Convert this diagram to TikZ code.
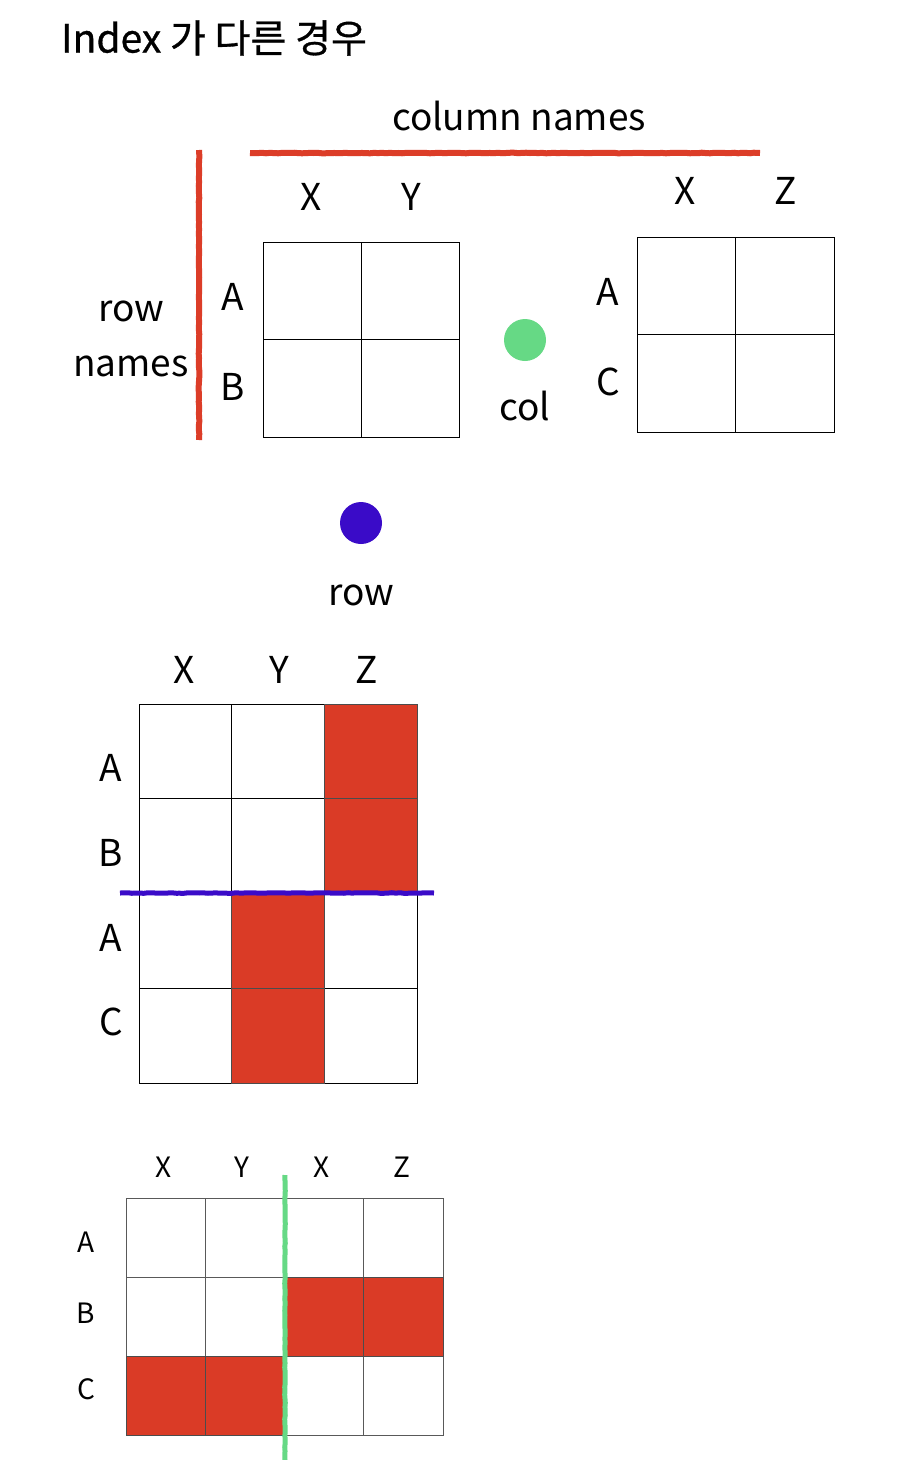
\documentclass[tikz,border=0pt]{standalone}
\usepackage{fontspec}
\setmainfont{Noto Sans CJK KR}
\newfontfamily\titlefont{Noto Sans CJK KR}[FakeBold=0.8]
\usetikzlibrary{decorations.pathmorphing}
\definecolor{brushred}{HTML}{DC3D28}
\definecolor{cellred}{HTML}{DA3B26}
\definecolor{brushblue}{HTML}{3A0BC8}
\definecolor{brushgreen}{HTML}{66D985}
\tikzset{
  lbl/.style={inner sep=0pt, font=\fontsize{37}{40}\selectfont},
  slbl/.style={inner sep=0pt, font=\fontsize{28}{32}\selectfont},
  cell/.style={draw=black, line width=0.9pt},
  gcell/.style={draw=black!65, line width=0.9pt},
  redcell/.style={fill=cellred, draw=black!70, line width=0.9pt},
  brush/.style={line width=6pt, decorate, decoration={random steps, segment length=4pt, amplitude=0.3pt}},
  dot/.style={circle, inner sep=0pt, minimum size=42pt},
}
\begin{document}
\begin{tikzpicture}[x=1pt,y=-1pt]
\useasboundingbox (0,0) rectangle (910,1460);
\fill[white] (0,0) rectangle (910,1460);

% title
\node[inner sep=0pt, anchor=west, font=\titlefont\fontsize{39}{42}\selectfont] (title) at (61,38) {Index 가 다른 경우};

% column names / row names
\node[lbl] (colnames) at (519,116) {column names};
\coordinate (ch1) at (250,153);
\coordinate (ch2) at (760,153);
\draw[brush, brushred] (ch1) -- (ch2);
\coordinate (rv1) at (199,150);
\coordinate (rv2) at (199,440);
\draw[brush, brushred] (rv1) -- (rv2);
\node[lbl] (rown) at (131,311) {row};
\node[lbl] (names) at (131,366) {names};

% left grid
\foreach \i in {0,1} \foreach \j in {0,1}
  \draw[cell] ({263+98*\i},{242+97.5*\j}) rectangle ++(98,97.5);
\node[lbl] (lx) at (311,197) {X};
\node[lbl] (ly) at (411,197) {Y};
\node[lbl] (la) at (233,297) {A};
\node[lbl] (lb) at (233,387) {B};

% right grid
\foreach \i in {0,1} \foreach \j in {0,1}
  \draw[cell] ({637+98.5*\i},{237+97.5*\j}) rectangle ++(98.5,97.5);
\node[lbl] (rx) at (685,191) {X};
\node[lbl] (rz) at (786,191) {Z};
\node[lbl] (ra) at (608,292) {A};
\node[lbl] (rc) at (608,382) {C};

% col dot
\node[dot, fill=brushgreen] (gdot) at (525,340) {};
\node[lbl] (col) at (525,406) {col};

% row dot
\node[dot, fill=brushblue] (bdot) at (361,523) {};
\node[lbl] (row) at (361,595) {row};

% middle grid
\foreach \i in {0,1,2} \foreach \j in {0,1,2,3}
  \draw[cell] ({139+92.7*\i},{704+94.75*\j}) rectangle ++(92.7,94.75);
\draw[redcell] (324.4,704) rectangle (417,798.75);
\draw[redcell] (324.4,798.75) rectangle (417,893.5);
\draw[redcell] (231.7,893.5) rectangle (324.4,988.25);
\draw[redcell] (231.7,988.25) rectangle (324.4,1083);
\node[lbl] (mx) at (184,670) {X};
\node[lbl] (my) at (279,670) {Y};
\node[lbl] (mz) at (367,670) {Z};
\node[lbl] (ma) at (111,768) {A};
\node[lbl] (mb) at (111,853) {B};
\node[lbl] (ma2) at (111,938) {A};
\node[lbl] (mc) at (111,1022) {C};
\coordinate (bl1) at (120,893);
\coordinate (bl2) at (434,893);
\draw[brush, brushblue, line width=5pt] (bl1) -- (bl2);

% bottom grid
\foreach \i in {0,1,2,3} \foreach \j in {0,1,2}
  \draw[gcell] ({126+79.25*\i},{1198+79*\j}) rectangle ++(79.25,79);
\draw[redcell] (284.5,1277) rectangle (363.75,1356);
\draw[redcell] (363.75,1277) rectangle (443,1356);
\draw[redcell] (126,1356) rectangle (205.25,1435);
\draw[redcell] (205.25,1356) rectangle (284.5,1435);
\node[slbl] (bx) at (164,1167) {X};
\node[slbl] (by) at (242,1167) {Y};
\node[slbl] (bx2) at (322,1167) {X};
\node[slbl] (bz) at (402,1167) {Z};
\node[slbl] (ba) at (86,1242) {A};
\node[slbl] (bb) at (86,1313) {B};
\node[slbl] (bc) at (86,1389) {C};
\coordinate (gl1) at (285,1175);
\coordinate (gl2) at (285,1460);
\draw[brush, brushgreen, line width=5pt] (gl1) -- (gl2);
\end{tikzpicture}
\end{document}
